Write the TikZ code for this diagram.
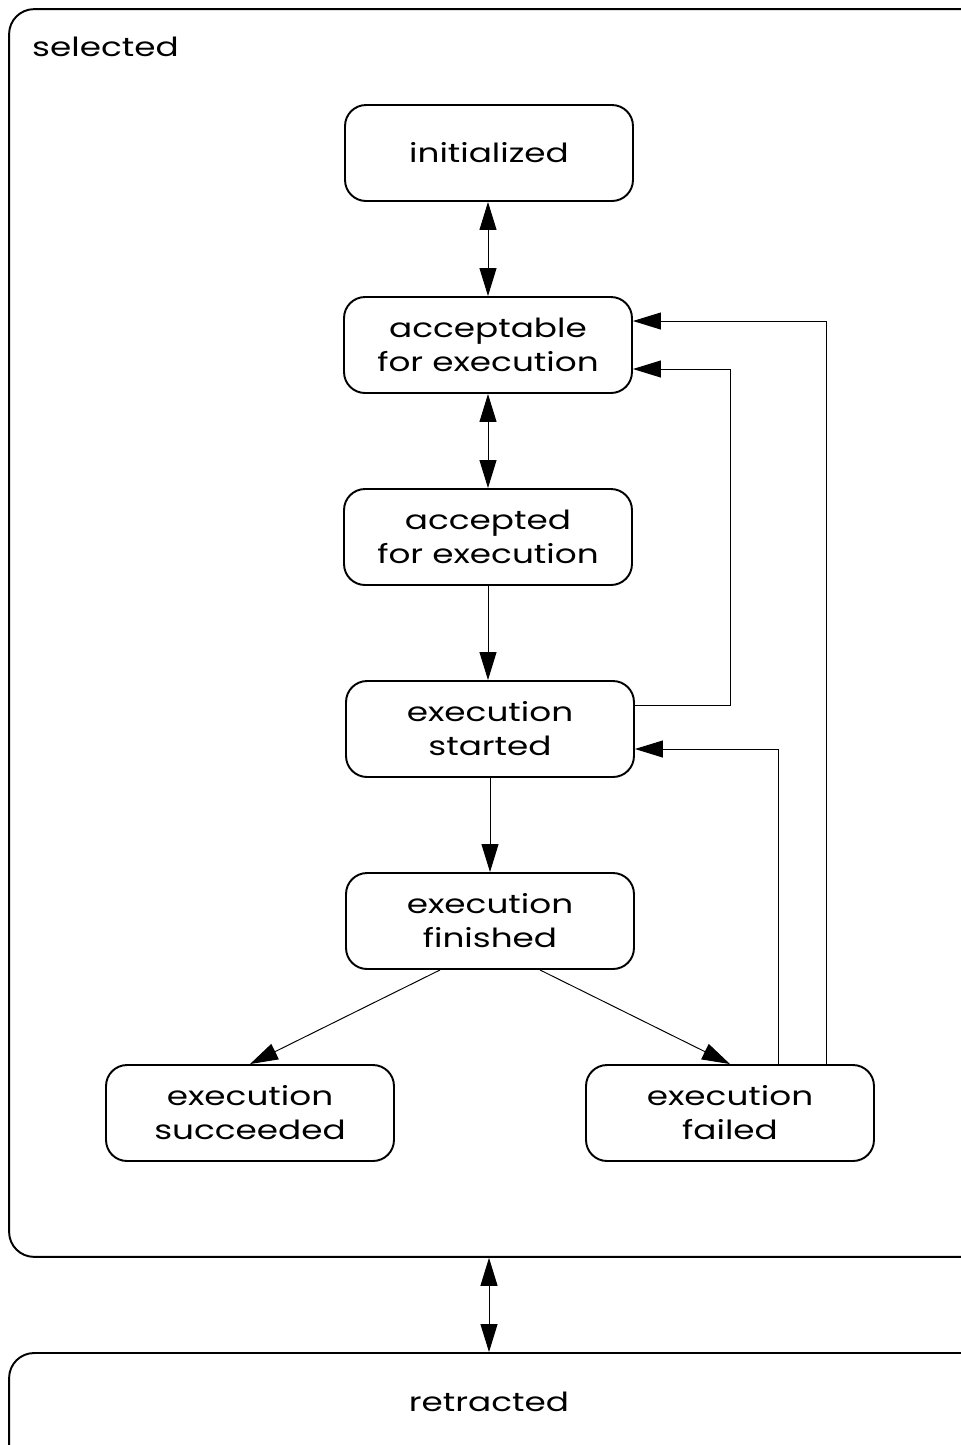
\documentclass[tikz,border=0pt]{standalone}
\usepackage{fontspec}
\setmainfont{Poppins}[FakeStretch=1.3]
\usetikzlibrary{arrows.meta, positioning}

\tikzset{
  state/.style={draw, line width=1.1pt, rounded corners=0.42cm, minimum width=5.76cm, minimum height=1.92cm, align=center, inner sep=0pt, font=\fontsize{15}{19.3}\selectfont},
  frame/.style={draw, line width=1.1pt, rounded corners=0.5cm, minimum width=19.82cm, inner sep=0pt},
  link/.style={-{Triangle[length=0.56cm, width=0.34cm]}, line width=0.55pt},
  both/.style={{Triangle[length=0.56cm, width=0.34cm]}-{Triangle[length=0.56cm, width=0.34cm]}, line width=0.55pt}
}

\begin{document}
\begin{tikzpicture}[x=0.02cm, y=-0.02cm]
\useasboundingbox (0,0) rectangle (961,1445);
\node[frame, minimum height=24.96cm] (selected) at (504.5,633) {};
\node[frame, minimum height=2.54cm] (retracted) at (504.5,1416.5) {};
\node[anchor=west, font=\fontsize{15}{19.3}\selectfont] (sellabel) at (26,47) {selected};
\node[font=\fontsize{15}{19.3}\selectfont] (retlabel) at (489,1402) {retracted};
\node[state] (initialized) at (489,153) {initialized};
\node[state] (acceptable) at (488,345) {acceptable\\for execution};
\node[state] (accepted) at (488,537) {accepted\\for execution};
\node[state] (started) at (490,729) {execution\\started};
\node[state] (finished) at (490,921) {execution\\finished};
\node[state] (succeeded) at (250,1113) {execution\\succeeded};
\node[state] (failed) at (730,1113) {execution\\failed};
\draw[both] (initialized.south -| acceptable) -- (acceptable);
\draw[both] (acceptable) -- (accepted);
\draw[link] (accepted) -- (accepted.south |- started.north);
\draw[link] (started) -- (finished);
\draw[link] ([xshift=-1cm]finished.south) -- (succeeded.north);
\draw[link] ([xshift=1cm]finished.south) -- (failed.north);
\draw[link] ([yshift=0.48cm]started.east) -- ++(1.92cm,0) |- ([yshift=-0.48cm]acceptable.east);
\draw[link] ([xshift=0.96cm]failed.north) |- ([yshift=-0.4cm]started.east);
\draw[link] ([xshift=1.92cm]failed.north) |- ([yshift=0.48cm]acceptable.east);
\draw[both] (selected.south -| retlabel) -- (retracted.north -| retlabel);
\end{tikzpicture}
\end{document}
